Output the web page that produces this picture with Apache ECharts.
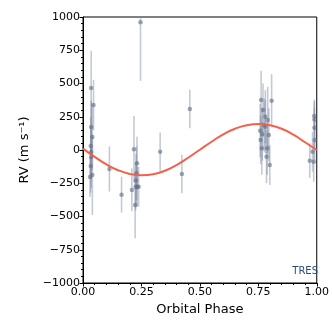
<!DOCTYPE html>
<html><head><meta charset="utf-8">
<script src="https://cdn.jsdelivr.net/npm/echarts@6/dist/echarts.min.js"></script>
<style>html,body{margin:0;padding:0;background:#fff}#c{width:332px;height:332px}</style>
</head><body><div id="c"></div>
<script>
var phase = [0.035,0.045,0.035,0.040,0.033,0.035,0.035,0.033,0.030,0.040,
             0.113,0.165,0.218,0.209,0.223,0.231,0.229,0.227,0.232,0.238,0.225,0.246,0.330,0.423,0.457,
             0.762,0.807,0.770,0.780,0.790,0.758,0.795,0.765,0.788,0.799,0.775,0.780,0.760,0.785,0.767,
             0.989,0.990,0.990,0.991,0.982,0.970,0.987];
var rv = [466,338,173,98,30,-15,-53,-120,-203,-188,
          -143,-336,5,-300,-413,-100,-175,-230,-276,-276,-276,960,-13,-180,308,
          376,371,300,250,225,145,113,13,13,-113,188,175,75,-50,118,
          255,230,168,75,-13,-80,-88];
var rvErr = [280,190,200,250,220,200,230,200,150,300,
             170,135,250,160,250,200,200,200,150,150,180,440,145,145,145,
             220,200,200,200,250,200,200,200,200,150,200,200,180,200,200,
             110,150,150,150,150,130,150];
var modelPhase = [0,0.05,0.1,0.15,0.2,0.25,0.3,0.35,0.4,0.45,0.5,0.55,0.6,0.65,0.7,0.75,0.8,0.85,0.9,0.95,1.0];
var modelRV = [10,-52,-108,-152,-180,-190,-182,-156,-113,-58,2,62,118,160,186,195,186,160,115,58,0];
var xTicks = [0,0.25,0.5,0.75,1.0];
var yTicks = [-1000,-750,-500,-250,0,250,500,750,1000];
var instLabel = 'TRES';

var pts = phase.map(function(p,i){return [p, rv[i], rvErr[i]];});
var model = modelPhase.map(function(p,i){return [p, modelRV[i]];});
function minus(v){return String(v).replace('-', '\u2212');}

var chart = echarts.init(document.getElementById('c'));
chart.setOption({
  animation:false,
  grid:{left:83,right:11,top:17,bottom:49,show:true,borderColor:'#000',borderWidth:1,backgroundColor:'transparent'},
  xAxis:{type:'value',min:xTicks[0],max:xTicks[xTicks.length-1],interval:0.25,
    name:'Orbital Phase',nameLocation:'middle',nameGap:20,
    nameTextStyle:{fontFamily:'DejaVu Sans',fontSize:13,color:'#000'},
    axisLine:{show:true,onZero:false,lineStyle:{color:'#000',width:1}},
    axisTick:{show:true,length:3.5,lineStyle:{color:'#000'}},
    minorTick:{show:true,splitNumber:5,length:2,lineStyle:{color:'#000'}},
    splitLine:{show:false},
    axisLabel:{fontFamily:'DejaVu Sans',fontSize:11,color:'#000',margin:4,formatter:function(v){return v.toFixed(2);}}
  },
  yAxis:{type:'value',min:yTicks[0],max:yTicks[yTicks.length-1],interval:250,
    name:'RV (m s\u207B\u00B9)',nameLocation:'middle',nameGap:52,
    nameTextStyle:{fontFamily:'DejaVu Sans',fontSize:13,color:'#000'},
    axisLine:{show:true,onZero:false,lineStyle:{color:'#000',width:1}},
    axisTick:{show:true,length:3.5,lineStyle:{color:'#000'}},
    minorTick:{show:true,splitNumber:5,length:2,lineStyle:{color:'#000'}},
    splitLine:{show:false},
    axisLabel:{fontFamily:'DejaVu Sans',fontSize:11,color:'#000',margin:3,formatter:minus}
  },
  graphic:[{type:'text',right:14,bottom:56,style:{text:instLabel,fontFamily:'DejaVu Sans',fontSize:10,fill:'#2b4a7a'}}],
  series:[
    {type:'custom',data:pts,clip:true,z:2,
     renderItem:function(params,api){
       var x=api.value(0),y=api.value(1),e=api.value(2);
       var a=api.coord([x,y+e]),b=api.coord([x,y-e]);
       return {type:'line',shape:{x1:a[0],y1:a[1],x2:b[0],y2:b[1]},
         style:{stroke:'rgba(125,138,162,0.45)',lineWidth:1.6}};
     },
     encode:{x:0,y:1}},
    {type:'scatter',data:pts,symbolSize:4.5,z:3,
     itemStyle:{color:'rgba(95,108,130,0.75)'}},
    {type:'line',data:model,smooth:true,showSymbol:false,z:4,
     lineStyle:{color:'#f4614a',width:2}}
  ]
});
</script></body></html>
